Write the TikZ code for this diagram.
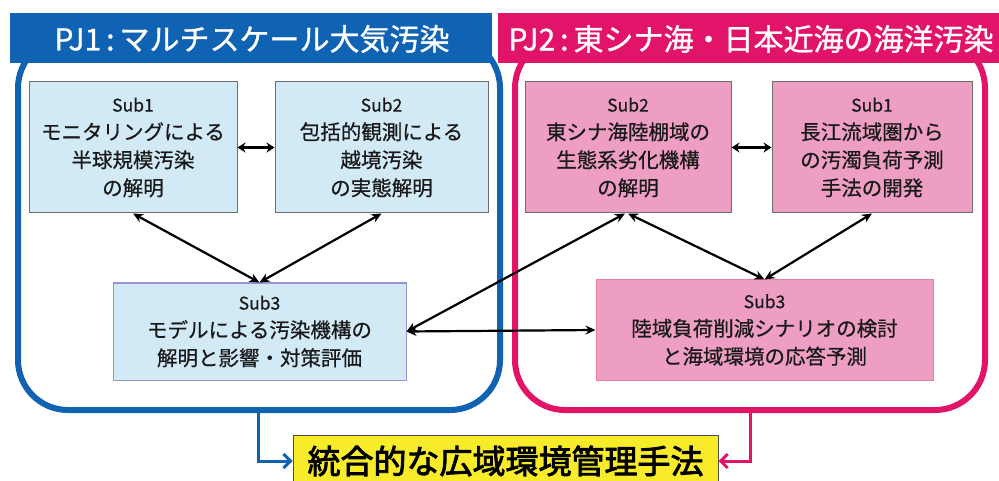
\documentclass[tikz,border=0pt]{standalone}
\usepackage{fontspec}
\newfontfamily\jp{Noto Sans CJK JP}[FakeBold=0.6]
\newfontfamily\jph{Noto Sans CJK JP}[FakeBold=1]
\newfontfamily\jpb{Noto Sans CJK JP}[FakeBold=2.5]
\usetikzlibrary{arrows.meta,calc}
\definecolor{pjblue}{RGB}{16,98,178}
\definecolor{pjpink}{RGB}{226,20,106}
\definecolor{lblue}{RGB}{210,234,246}
\definecolor{lpink}{RGB}{238,158,194}
\definecolor{boxgray}{RGB}{110,110,110}
\definecolor{lav}{RGB}{150,150,210}
\definecolor{rose}{RGB}{236,125,165}
\definecolor{yel}{RGB}{248,236,42}
\definecolor{txt}{RGB}{25,25,25}
\tikzset{
  frame/.style={line width=6pt, rounded corners=50pt},
  headtext/.style={text=white, inner sep=0pt, font=\jph\fontsize{30}{34}\selectfont},
  subbox/.style={draw=boxgray, line width=1pt, text=txt, align=center, inner sep=0pt, font=\jp\fontsize{20.5}{28}\selectfont},
  link/.style={line width=2.2pt, {Stealth[length=10pt,width=9pt]}-{Stealth[length=10pt,width=9pt]}},
  shortlink/.style={line width=2.2pt, {Stealth[length=8pt,width=10pt]}-{Stealth[length=8pt,width=10pt]}},
  outarrow/.style={line width=3pt, -{Straight Barb[length=7pt,width=14pt]}}
}
\newcommand{\subl}[1]{{\fontsize{17.5}{28}\selectfont #1}}
\begin{document}
\begin{tikzpicture}[x=1pt,y=-1pt]
\useasboundingbox (0,0) rectangle (999,481);
% frames
\draw[frame, draw=pjblue] (18,38) rectangle (500,410);
\draw[frame, draw=pjpink] (515,38) rectangle (985,410);
% headers
\fill[pjblue] (10,13) rectangle (492,63);
\fill[pjpink] (498,13) rectangle (1005,63);
\node[headtext] (h1) at (252,39) {PJ1\,:\,マルチスケール大気汚染};
\node[headtext] (h2) at (751,39) {PJ2\,:\,東シナ海・日本近海の海洋汚染};
% PJ1 boxes
\node[subbox, fill=lblue, minimum width=208pt, minimum height=131pt] (a1) at (133,147.5)
  {\subl{Sub1}\\モニタリングによる\\半球規模汚染\\の解明};
\node[subbox, fill=lblue, minimum width=213pt, minimum height=131pt] (a2) at (381.5,147.5)
  {\subl{Sub2}\\包括的観測による\\越境汚染\\の実態解明};
\node[subbox, draw=lav, fill=lblue, minimum width=293pt, minimum height=97pt] (a3) at (259.5,331.5)
  {\subl{Sub3}\\モデルによる汚染機構の\\解明と影響・対策評価};
% PJ2 boxes
\node[subbox, fill=lpink, minimum width=206pt, minimum height=131pt] (b2) at (628,147.5)
  {\subl{Sub2}\\東シナ海陸棚域の\\生態系劣化機構\\の解明};
\node[subbox, fill=lpink, minimum width=200pt, minimum height=131pt] (b1) at (872,147.5)
  {\subl{Sub1}\\長江流域圏から\\の汚濁負荷予測\\手法の開発};
\node[subbox, draw=rose, fill=lpink, minimum width=337pt, minimum height=100pt] (b3) at (764.5,330)
  {\subl{Sub3}\\陸域負荷削減シナリオの検討\\と海域環境の応答予測};
% result box
\node[draw=black!70, line width=1pt, fill=yel, minimum width=425pt, minimum height=52pt, inner sep=0pt,
  font=\jpb\fontsize{33}{36}\selectfont, text=black] (r) at (505.5,461) {統合的な広域環境管理手法};
% links
\draw[shortlink] (a1.east) -- (a2.west);
\draw[shortlink] (b2.east) -- (b1.west);
\draw[link] (a1.south) -- (a3.north);
\draw[link] (a2.south) -- (a3.north);
\draw[link] (b2.south) -- (b3.north);
\draw[link] (b1.south) -- (b3.north);
\draw[link] (a3.east) -- (b3.west);
\draw[link] (a3.east) -- ($(b2.south)+(-3,0)$);
% outputs
\coordinate (c1) at (258,410);
\coordinate (c2) at (750,410);
\draw[outarrow, draw=pjblue] (c1) |- (r.west);
\draw[outarrow, draw=pjpink] (c2) |- (r.east);
\end{tikzpicture}
\end{document}
